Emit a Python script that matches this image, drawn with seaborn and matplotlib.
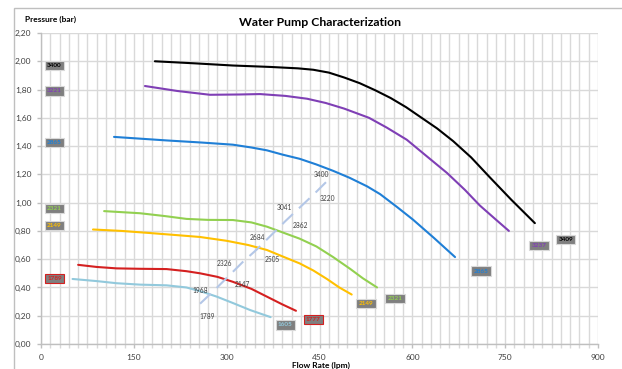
import matplotlib
matplotlib.use("Agg")
import matplotlib.pyplot as plt
from matplotlib.patches import Rectangle
from matplotlib.ticker import MultipleLocator, FuncFormatter
import seaborn as sns
import pandas as pd

# ---- data ----
black_x = [184, 250, 310, 370, 415, 440, 465, 490, 515, 540, 565, 590, 615, 640, 666, 695, 725, 760, 798]
black_y = [2.00, 1.985, 1.97, 1.96, 1.95, 1.94, 1.92, 1.885, 1.845, 1.795, 1.74, 1.675, 1.60, 1.525,
           1.435, 1.32, 1.18, 1.02, 0.855]

purple_x = [168, 220, 273, 320, 354, 395, 430, 460, 490, 530, 559, 591, 620, 656, 685, 709, 735, 756]
purple_y = [1.825, 1.79, 1.763, 1.765, 1.768, 1.755, 1.735, 1.705, 1.665, 1.60, 1.53, 1.445, 1.34,
            1.21, 1.09, 0.98, 0.88, 0.80]

blue_x = [118, 203, 260, 310, 340, 365, 390, 418, 445, 472, 499, 527, 548, 575, 601, 635, 669]
blue_y = [1.465, 1.44, 1.425, 1.41, 1.39, 1.37, 1.34, 1.31, 1.27, 1.225, 1.175, 1.115, 1.06, 0.97,
          0.88, 0.75, 0.615]

green_x = [102, 160, 200, 235, 270, 310, 340, 365, 390, 418, 445, 472, 500, 520, 543]
green_y = [0.94, 0.925, 0.905, 0.885, 0.878, 0.877, 0.86, 0.83, 0.79, 0.745, 0.69, 0.615, 0.53,
           0.465, 0.40]

yellow_x = [84, 130, 176, 220, 257, 300, 335, 365, 390, 418, 440, 462, 482, 502]
yellow_y = [0.81, 0.80, 0.785, 0.77, 0.757, 0.73, 0.70, 0.665, 0.62, 0.57, 0.52, 0.46, 0.40, 0.35]

red_x = [60, 90, 122, 160, 203, 235, 257, 285, 310, 340, 365, 390, 412]
red_y = [0.56, 0.545, 0.535, 0.532, 0.53, 0.515, 0.50, 0.475, 0.44, 0.39, 0.335, 0.28, 0.235]

lblue_x = [51, 90, 122, 160, 203, 235, 260, 284, 310, 338, 371]
lblue_y = [0.46, 0.445, 0.43, 0.42, 0.415, 0.40, 0.37, 0.335, 0.29, 0.24, 0.19]

rpm_x = [257, 280, 303, 326, 349, 372, 395, 418, 441, 464]
rpm_y = [0.285, 0.38, 0.48, 0.58, 0.67, 0.77, 0.87, 0.965, 1.06, 1.16]
rpm_labels = ["1789", "1968", "2147", "2326", "2505", "2684", "2862", "3041", "3220", "3400"]

series_names = ["3400", "3221", "2865", "2321", "2149", "1789"]
series_end_labels = ["3409", "3237", "2865", "2321", "2149", "1777"]
series_colors = ["#000000", "#7f3fb5", "#1f7fd6", "#92d050", "#ffc000", "#d42020"]
start_label_y = [1.97, 1.79, 1.425, 0.96, 0.84, 0.465]
end_label_x = [848, 805, 711, 572, 525, 440]
end_label_y = [0.74, 0.695, 0.515, 0.32, 0.285, 0.175]
lblue_end_label = "1605"

title = "Water Pump Characterization"
ylabel = "Pressure (bar)"
xlabel = "Flow Rate (lpm)"

# ---- style ----
sns.set_theme(style="white")
plt.rcParams["font.family"] = ["Lato", "DejaVu Sans"]

fig = plt.figure(figsize=(6.22, 3.69), dpi=100)
ax = fig.add_axes([41 / 622, 25 / 369, 557 / 622, 311 / 369])

curves = [
    (black_x, black_y, series_colors[0]),
    (purple_x, purple_y, series_colors[1]),
    (blue_x, blue_y, series_colors[2]),
    (green_x, green_y, series_colors[3]),
    (yellow_x, yellow_y, series_colors[4]),
    (red_x, red_y, series_colors[5]),
    (lblue_x, lblue_y, "#92c9dc"),
]
for xs, ys, c in curves:
    df = pd.DataFrame({"x": xs, "y": ys})
    sns.lineplot(data=df, x="x", y="y", color=c, lw=1.5, sort=False, ax=ax,
                 estimator=None, zorder=3)
    ax.lines[-1].set_solid_joinstyle("round")

dfr = pd.DataFrame({"x": rpm_x, "y": rpm_y})
sns.lineplot(data=dfr, x="x", y="y", color="#b4c7e7", lw=1.5, sort=False, ax=ax,
             estimator=None, zorder=4)
ax.lines[-1].set_dashes([7, 4])

offsets = [(5, -9), (-10, 0), (10, -6), (-13, -1), (11, -7), (-10, -2),
           (11, -3), (-11, 0), (10, -3), (-5, 4)]
for x, y, lab, off in zip(rpm_x, rpm_y, rpm_labels, offsets):
    ax.annotate(lab, (x, y), xytext=off, textcoords="offset points",
                fontsize=4.8, color="#404040", ha="center", va="center", zorder=5)

def box_label(x, y, text, color, edge="#d9d9d9"):
    ax.text(x, y, text, fontsize=4.6, color=color, ha="center", va="center",
            fontweight="bold", zorder=6,
            bbox=dict(boxstyle="square,pad=0.35", facecolor="#7f7f7f",
                      edgecolor=edge, linewidth=0.8))

for i, name in enumerate(series_names):
    edge = "#d42020" if i == 5 else "#d9d9d9"
    box_label(22, start_label_y[i], name, series_colors[i], edge)
    box_label(end_label_x[i], end_label_y[i], series_end_labels[i], series_colors[i], edge)
box_label(395, 0.135, lblue_end_label, "#92c9dc")

# ---- axes ----
ax.set_xlim(0, 900)
ax.set_ylim(0, 2.2)
ax.xaxis.set_major_locator(MultipleLocator(150))
ax.xaxis.set_minor_locator(MultipleLocator(15))
ax.yaxis.set_major_locator(MultipleLocator(0.2))
ax.yaxis.set_major_formatter(FuncFormatter(lambda v, p: f"{v:.2f}".replace(".", ",")))
ax.grid(True, which="both", axis="x", color="#d9d9d9", lw=1.0, zorder=0)
ax.grid(True, which="major", axis="y", color="#d9d9d9", lw=1.0, zorder=0)
ax.set_axisbelow(True)
for s in ["top", "right"]:
    ax.spines[s].set_visible(False)
for s in ["left", "bottom"]:
    ax.spines[s].set_color("#bfbfbf")
    ax.spines[s].set_linewidth(1.0)
ax.tick_params(axis="both", which="major", labelsize=6, colors="#bfbfbf",
               labelcolor="#404040", length=3, width=1, direction="out",
               bottom=True, left=True, pad=4)
ax.tick_params(axis="x", which="minor", length=3, width=1, colors="#d9d9d9", bottom=True)
ax.set_xlabel("")
ax.set_ylabel("")

fig.text(320 / 622, 1 - 22 / 369, title, ha="center", va="center",
         fontsize=8.8, fontweight="bold", color="#000000")
fig.text(25 / 622, 1 - 19 / 369, ylabel, ha="left", va="center",
         fontsize=6, fontweight="bold", color="#000000")
fig.text(321 / 622, 1 - 362 / 369, xlabel, ha="center", va="top",
         fontsize=6, fontweight="bold", color="#000000")

fig.patches.append(Rectangle((14 / 622, -0.1), 1.2, 1 - 8 / 369 + 0.1,
                             transform=fig.transFigure, fill=False,
                             edgecolor="#bfbfbf", lw=1.0))

fig.savefig("out.png", dpi=100)
